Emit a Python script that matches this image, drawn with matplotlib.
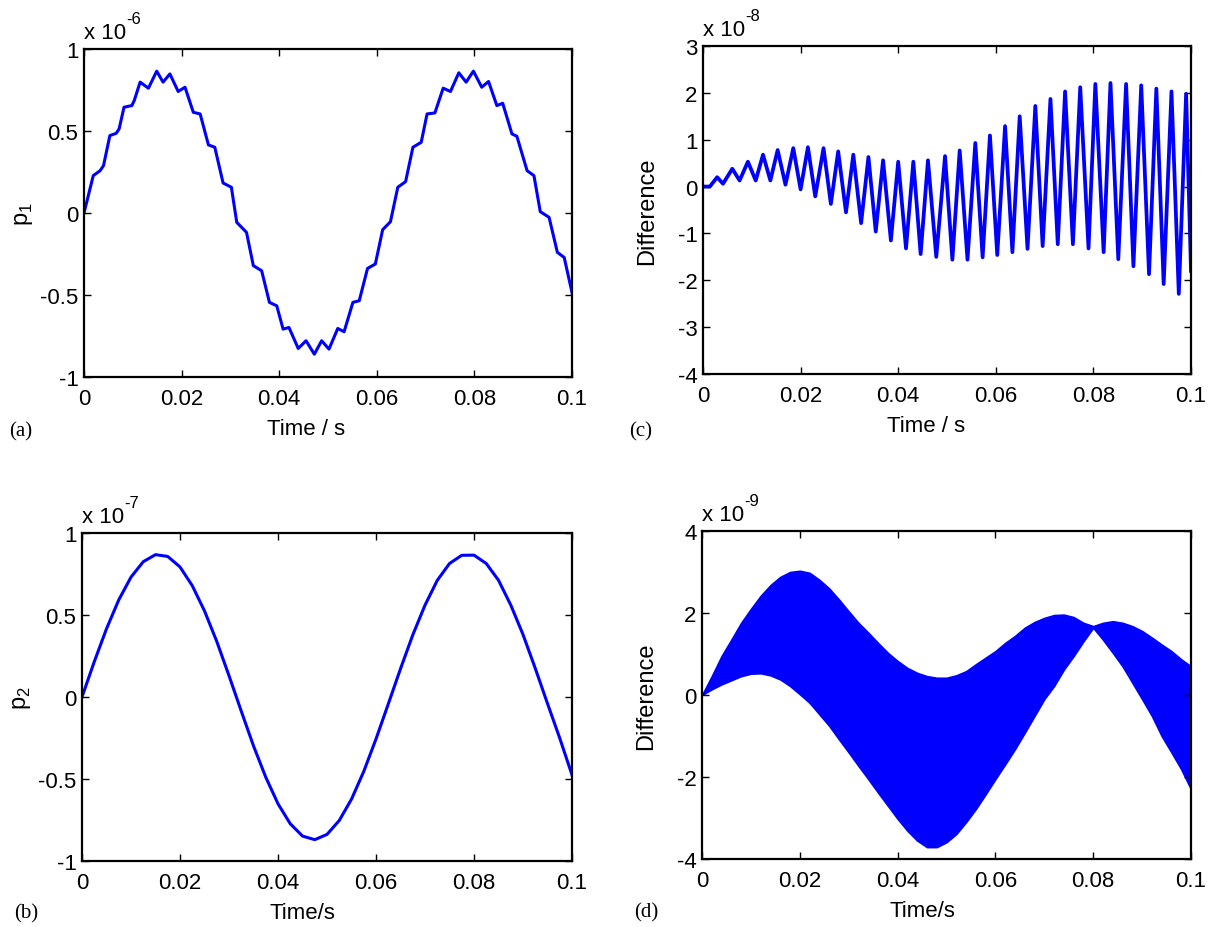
import numpy as np
import matplotlib
matplotlib.use("Agg")
import matplotlib.pyplot as plt

# --- (a) p1, x 10^-6 ---
t_a = [0.0, 0.0019, 0.0033, 0.0040, 0.0053, 0.0066, 0.0072, 0.0082, 0.0098, 0.0103,
       0.0115, 0.0132, 0.0149, 0.0162, 0.0176, 0.0193, 0.0207, 0.0224, 0.0238, 0.0255,
       0.0268, 0.0285, 0.0302, 0.0313, 0.0333, 0.0347, 0.0364, 0.0380, 0.0395, 0.0408,
       0.0420, 0.0439, 0.0455, 0.0472, 0.0487, 0.0502, 0.0520, 0.0533, 0.0551, 0.0564,
       0.0581, 0.0597, 0.0612, 0.0628, 0.0643, 0.0659, 0.0674, 0.0691, 0.0703, 0.0719,
       0.0736, 0.0751, 0.0768, 0.0783, 0.0798, 0.0815, 0.0829, 0.0846, 0.0858, 0.0877,
       0.0887, 0.0908, 0.0922, 0.0935, 0.0953, 0.0970, 0.0984, 0.1000]
p1 = [0.0, 0.228, 0.258, 0.289, 0.472, 0.486, 0.513, 0.645, 0.655, 0.686,
      0.798, 0.761, 0.865, 0.798, 0.848, 0.741, 0.767, 0.614, 0.604, 0.415,
      0.401, 0.183, 0.157, -0.057, -0.118, -0.321, -0.352, -0.545, -0.566, -0.708,
      -0.698, -0.826, -0.779, -0.861, -0.779, -0.830, -0.704, -0.724, -0.545, -0.535,
      -0.338, -0.311, -0.102, -0.053, 0.157, 0.191, 0.401, 0.431, 0.604, 0.610,
      0.761, 0.741, 0.855, 0.798, 0.865, 0.767, 0.802, 0.655, 0.669, 0.482,
      0.468, 0.258, 0.228, 0.008, -0.026, -0.240, -0.271, -0.484]

# --- (b) p2, x 10^-7 ---
t_b = np.linspace(0, 0.1, 41)
p2 = [0.0, 0.215, 0.416, 0.592, 0.731, 0.825, 0.868, 0.857, 0.793, 0.679,
      0.525, 0.339, 0.130, -0.086, -0.298, -0.489, -0.651, -0.773, -0.848, -0.870,
      -0.838, -0.753, -0.623, -0.454, -0.256, -0.043, 0.172, 0.378, 0.560, 0.711,
      0.814, 0.864, 0.865, 0.814, 0.712, 0.561, 0.381, 0.175, -0.040, -0.251, -0.475]

# --- (c) difference, x 10^-8 (peaks and troughs) ---
t_c = [0.0, 0.0014, 0.0029, 0.0041, 0.0060, 0.0075, 0.0092, 0.0108, 0.0123, 0.0138,
       0.0153, 0.0169, 0.0185, 0.0200, 0.0215, 0.0230, 0.0247, 0.0262, 0.0277, 0.0293,
       0.0308, 0.0324, 0.0339, 0.0354, 0.0369, 0.0385, 0.0400, 0.0416, 0.0431, 0.0446,
       0.0461, 0.0478, 0.0496, 0.0511, 0.0526, 0.0542, 0.0558, 0.0573, 0.0588, 0.0603,
       0.0619, 0.0634, 0.0649, 0.0665, 0.0681, 0.0696, 0.0712, 0.0727, 0.0742, 0.0758,
       0.0773, 0.0790, 0.0804, 0.0821, 0.0835, 0.0851, 0.0867, 0.0882, 0.0898, 0.0914,
       0.0929, 0.0944, 0.0960, 0.0975, 0.0990, 0.1000]
d_c = [0.0, 0.0, 0.20, 0.06, 0.38, 0.13, 0.53, 0.13, 0.68, 0.13,
       0.78, 0.04, 0.82, -0.06, 0.84, -0.21, 0.82, -0.37, 0.75, -0.55,
       0.68, -0.78, 0.63, -0.96, 0.56, -1.15, 0.53, -1.32, 0.53, -1.44,
       0.56, -1.50, 0.65, -1.56, 0.77, -1.56, 0.93, -1.51, 1.09, -1.46,
       1.29, -1.40, 1.50, -1.33, 1.72, -1.27, 1.87, -1.23, 2.03, -1.23,
       2.12, -1.32, 2.19, -1.40, 2.21, -1.55, 2.19, -1.70, 2.16, -1.87,
       2.09, -2.08, 2.03, -2.29, 1.98, -1.80]

# --- (d) difference, x 10^-9 (upper / lower envelope of dense oscillation) ---
t_d = np.linspace(0, 0.1, 51)
d_hi = [0.0, 0.46, 0.95, 1.35, 1.76, 2.10, 2.42, 2.68, 2.88, 3.00,
        3.03, 2.98, 2.81, 2.60, 2.33, 2.04, 1.76, 1.52, 1.27, 1.03,
        0.83, 0.66, 0.54, 0.46, 0.42, 0.42, 0.48, 0.58, 0.75, 0.91,
        1.07, 1.27, 1.44, 1.64, 1.78, 1.88, 1.95, 1.96, 1.90, 1.76,
        1.68, 1.76, 1.80, 1.76, 1.68, 1.56, 1.40, 1.23, 1.07, 0.87, 0.70]
d_lo = [0.0, 0.14, 0.26, 0.36, 0.46, 0.52, 0.53, 0.48, 0.38, 0.22,
        0.02, -0.19, -0.47, -0.75, -1.08, -1.40, -1.73, -2.05, -2.38, -2.70,
        -3.02, -3.31, -3.55, -3.71, -3.71, -3.59, -3.39, -3.10, -2.78, -2.42,
        -2.05, -1.69, -1.32, -0.92, -0.51, -0.10, 0.22, 0.62, 0.95, 1.31,
        1.64, 1.35, 1.03, 0.70, 0.30, -0.10, -0.51, -1.00, -1.40, -1.81, -2.30]

x_ticks = [0, 0.02, 0.04, 0.06, 0.08, 0.1]
x_tick_labels = ["0", "0.02", "0.04", "0.06", "0.08", "0.1"]

BLUE = (0, 0, 1)
W, H = 1215, 928

plt.rcParams["font.family"] = ["Liberation Sans", "DejaVu Sans"]
plt.rcParams["axes.unicode_minus"] = False
plt.rcParams["mathtext.fontset"] = "custom"
plt.rcParams["mathtext.rm"] = "Liberation Sans"
plt.rcParams["lines.solid_joinstyle"] = "round"

fig = plt.figure(figsize=(W / 100, H / 100), dpi=100)


def make_axes(left, top, right, bottom):
    return fig.add_axes([left / W, 1 - bottom / H, (right - left) / W, (bottom - top) / H])


def style(ax, yticks, exp, ylabel, ypad, xlabel, xlab_x, tag, tag_xy):
    ax.set_xlim(0, 0.1)
    ax.set_xticks(x_ticks)
    ax.set_xticklabels(x_tick_labels)
    ax.set_ylim(yticks[0], yticks[-1])
    ax.set_yticks(yticks)
    ax.set_yticklabels(["%g" % v for v in yticks])
    ax.tick_params(direction="in", length=5, width=1, top=True, right=True, labelsize=16)
    ax.tick_params(axis="x", pad=8)
    ax.tick_params(axis="y", pad=4)
    for s in ax.spines.values():
        s.set_linewidth(1.6)
    # MATLAB style exponent above the axes
    ax.annotate("x 10", xy=(0, 1), xycoords="axes fraction",
                xytext=(0, 8), textcoords="offset points", fontsize=16, va="baseline")
    ax.annotate("%d" % exp, xy=(0, 1), xycoords="axes fraction",
                xytext=(30.5, 19), textcoords="offset points", fontsize=12, va="baseline")
    ax.set_ylabel(ylabel, fontsize=17, labelpad=ypad)
    ax.set_xlabel(xlabel, fontsize=16)
    ax.xaxis.set_label_coords(xlab_x, -0.125)
    fig.text(tag_xy[0] / W, 1 - tag_xy[1] / H, tag, family="Liberation Serif",
             fontsize=15, ha="center", va="center")


ax_a = make_axes(84, 50, 572, 378)
ax_a.plot(t_a, p1, color=BLUE, lw=2.2)
style(ax_a, [-1, -0.5, 0, 0.5, 1], -6, r"p$_{\mathregular{1}}$", 4, "Time / s", 0.455, "(a)", (21, 432))

ax_c = make_axes(703, 47, 1191, 375)
ax_c.plot(t_c, d_c, color=BLUE, lw=2.7)
style(ax_c, [-4, -3, -2, -1, 0, 1, 2, 3], -8, "Difference", 14, "Time / s", 0.458, "(c)", (641, 432))

ax_b = make_axes(82, 534, 572, 862)
ax_b.plot(t_b, p2, color=BLUE, lw=2.2)
style(ax_b, [-1, -0.5, 0, 0.5, 1], -7, r"p$_{\mathregular{2}}$", 4, "Time/s", 0.45, "(b)", (26, 914))

ax_d = make_axes(702, 532, 1191, 860)
ax_d.fill_between(t_d, d_lo, d_hi, color=BLUE, lw=1.2)
style(ax_d, [-4, -2, 0, 2, 4], -9, "Difference", 14, "Time/s", 0.45, "(d)", (646, 913))

fig.savefig("out.png", dpi=100)
